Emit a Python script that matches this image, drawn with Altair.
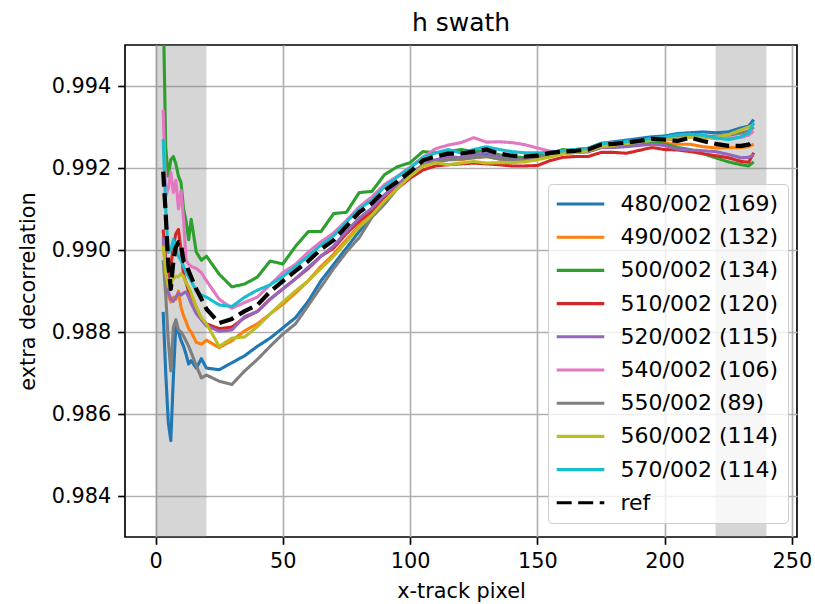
import altair as alt
import pandas as pd

# x-track pixel positions at which each curve is sampled
x_pixel = [3, 4, 5, 6, 7, 8, 9, 10, 11, 12, 13, 14, 16, 18, 20,
           25, 30, 35, 40, 45, 50, 55, 60, 65, 70, 75, 80, 85, 90, 95, 100,
           105, 110, 115, 120, 125, 130, 135, 140, 145, 150, 155, 160, 165, 170,
           175, 180, 185, 190, 195, 200, 205, 210, 215, 220, 225, 230, 233, 235]

s480 = [0.98849, 0.98700, 0.98580, 0.98535, 0.98690, 0.98820, 0.98800, 0.98780, 0.98765, 0.98745, 0.98722, 0.98730, 0.98712, 0.98735, 0.98712,
        0.98708, 0.98725, 0.98742, 0.98765, 0.98785, 0.98810, 0.98835, 0.98875, 0.98925, 0.98965, 0.99005, 0.99045, 0.99085, 0.99120, 0.99155, 0.99182,
        0.99205, 0.99218, 0.99225, 0.99225, 0.99228, 0.99232, 0.99228, 0.99225, 0.99225, 0.99228, 0.99237, 0.99242, 0.99245, 0.99248,
        0.99260, 0.99264, 0.99268, 0.99272, 0.99276, 0.99278, 0.99284, 0.99286, 0.99288, 0.99286, 0.99288, 0.99298, 0.99302, 0.99318]

s490 = [0.99020, 0.98950, 0.98890, 0.98873, 0.98885, 0.98880, 0.98900, 0.98860, 0.98840, 0.98825, 0.98808, 0.98800, 0.98775, 0.98770, 0.98780,
        0.98762, 0.98779, 0.98803, 0.98820, 0.98844, 0.98868, 0.98895, 0.98925, 0.98960, 0.98990, 0.99025, 0.99060, 0.99090, 0.99125, 0.99152, 0.99180,
        0.99205, 0.99215, 0.99220, 0.99220, 0.99225, 0.99228, 0.99222, 0.99218, 0.99218, 0.99222, 0.99230, 0.99235, 0.99238, 0.99240,
        0.99250, 0.99252, 0.99255, 0.99258, 0.99262, 0.99260, 0.99258, 0.99258, 0.99252, 0.99249, 0.99250, 0.99250, 0.99252, 0.99258]

s500 = [0.99600, 0.99250, 0.99180, 0.99220, 0.99228, 0.99210, 0.99180, 0.99165, 0.99100, 0.99070, 0.99025, 0.99075, 0.98995, 0.98975, 0.98985,
        0.98941, 0.98910, 0.98917, 0.98934, 0.98973, 0.98966, 0.99009, 0.99045, 0.99045, 0.99089, 0.99092, 0.99140, 0.99143, 0.99184, 0.99203, 0.99213,
        0.99240, 0.99237, 0.99240, 0.99245, 0.99240, 0.99242, 0.99232, 0.99228, 0.99225, 0.99228, 0.99235, 0.99245, 0.99240, 0.99240,
        0.99250, 0.99252, 0.99255, 0.99258, 0.99262, 0.99258, 0.99250, 0.99245, 0.99235, 0.99225, 0.99215, 0.99208, 0.99205, 0.99215]

s510 = [0.99050, 0.98980, 0.98930, 0.98960, 0.99010, 0.99040, 0.99050, 0.99000, 0.98940, 0.98920, 0.98900, 0.98890, 0.98860, 0.98830, 0.98820,
        0.98808, 0.98812, 0.98835, 0.98850, 0.98880, 0.98905, 0.98930, 0.98955, 0.98985, 0.99005, 0.99040, 0.99070, 0.99095, 0.99125, 0.99150, 0.99175,
        0.99195, 0.99205, 0.99208, 0.99210, 0.99212, 0.99210, 0.99208, 0.99205, 0.99205, 0.99206, 0.99218, 0.99226, 0.99228, 0.99228,
        0.99238, 0.99238, 0.99236, 0.99243, 0.99250, 0.99245, 0.99244, 0.99240, 0.99235, 0.99230, 0.99225, 0.99216, 0.99214, 0.99237]

s520 = [0.99030, 0.98960, 0.98898, 0.98880, 0.98875, 0.98885, 0.98895, 0.98890, 0.98895, 0.98898, 0.98885, 0.98870, 0.98845, 0.98830, 0.98815,
        0.98802, 0.98805, 0.98838, 0.98850, 0.98880, 0.98905, 0.98930, 0.98958, 0.98985, 0.99010, 0.99045, 0.99078, 0.99102, 0.99135, 0.99160, 0.99185,
        0.99208, 0.99220, 0.99228, 0.99225, 0.99232, 0.99238, 0.99228, 0.99222, 0.99220, 0.99224, 0.99232, 0.99236, 0.99238, 0.99240,
        0.99250, 0.99250, 0.99252, 0.99255, 0.99258, 0.99255, 0.99246, 0.99244, 0.99242, 0.99240, 0.99233, 0.99225, 0.99226, 0.99232]

s540 = [0.99342, 0.99130, 0.99150, 0.99190, 0.99140, 0.99170, 0.99100, 0.99145, 0.99075, 0.98975, 0.98965, 0.98960, 0.98955, 0.98945, 0.98925,
        0.98880, 0.98858, 0.98872, 0.98885, 0.98915, 0.98945, 0.98965, 0.98995, 0.99020, 0.99042, 0.99072, 0.99105, 0.99130, 0.99160, 0.99180, 0.99202,
        0.99226, 0.99247, 0.99256, 0.99262, 0.99274, 0.99263, 0.99264, 0.99262, 0.99257, 0.99249, 0.99241, 0.99238, 0.99240, 0.99242,
        0.99255, 0.99258, 0.99260, 0.99264, 0.99268, 0.99268, 0.99270, 0.99275, 0.99275, 0.99272, 0.99272, 0.99275, 0.99280, 0.99290]

s550 = [0.98975, 0.98890, 0.98780, 0.98705, 0.98812, 0.98830, 0.98805, 0.98800, 0.98790, 0.98778, 0.98765, 0.98750, 0.98718, 0.98688, 0.98695,
        0.98680, 0.98672, 0.98705, 0.98733, 0.98765, 0.98795, 0.98820, 0.98865, 0.98910, 0.98955, 0.98995, 0.99030, 0.99080, 0.99112, 0.99150, 0.99180,
        0.99205, 0.99215, 0.99220, 0.99222, 0.99225, 0.99228, 0.99222, 0.99220, 0.99220, 0.99225, 0.99235, 0.99240, 0.99242, 0.99245,
        0.99256, 0.99258, 0.99262, 0.99266, 0.99270, 0.99272, 0.99275, 0.99278, 0.99278, 0.99278, 0.99280, 0.99285, 0.99290, 0.99300]

s560 = [0.99010, 0.98945, 0.98910, 0.98920, 0.98930, 0.98935, 0.98935, 0.98942, 0.98935, 0.98920, 0.98910, 0.98895, 0.98860, 0.98835, 0.98820,
        0.98765, 0.98785, 0.98788, 0.98813, 0.98844, 0.98873, 0.98900, 0.98925, 0.98955, 0.98985, 0.99020, 0.99055, 0.99085, 0.99120, 0.99150, 0.99180,
        0.99204, 0.99213, 0.99208, 0.99212, 0.99216, 0.99212, 0.99213, 0.99213, 0.99215, 0.99220, 0.99227, 0.99235, 0.99238, 0.99242,
        0.99252, 0.99255, 0.99260, 0.99263, 0.99268, 0.99270, 0.99272, 0.99275, 0.99275, 0.99275, 0.99281, 0.99293, 0.99300, 0.99305]

s570 = [0.99270, 0.99100, 0.98994, 0.99000, 0.99026, 0.99000, 0.98985, 0.98975, 0.98960, 0.98946, 0.98935, 0.98925, 0.98900, 0.98890, 0.98885,
        0.98866, 0.98862, 0.98885, 0.98902, 0.98915, 0.98935, 0.98960, 0.98985, 0.99012, 0.99035, 0.99068, 0.99100, 0.99122, 0.99155, 0.99178, 0.99200,
        0.99225, 0.99237, 0.99245, 0.99237, 0.99245, 0.99252, 0.99245, 0.99240, 0.99237, 0.99237, 0.99238, 0.99242, 0.99245, 0.99248,
        0.99260, 0.99262, 0.99265, 0.99268, 0.99272, 0.99275, 0.99281, 0.99282, 0.99280, 0.99274, 0.99269, 0.99276, 0.99285, 0.99310]

ref = [0.99191, 0.99087, 0.98966, 0.98905, 0.98973, 0.99007, 0.99019, 0.99014, 0.98973, 0.98966, 0.98949, 0.98934, 0.98905, 0.98881, 0.98856,
       0.98822, 0.98832, 0.98851, 0.98866, 0.98898, 0.98924, 0.98949, 0.98973, 0.99002, 0.99024, 0.99058, 0.99092, 0.99114, 0.99145, 0.99167, 0.99191,
       0.99218, 0.99228, 0.99235, 0.99235, 0.99240, 0.99245, 0.99235, 0.99230, 0.99228, 0.99230, 0.99237, 0.99240, 0.99242, 0.99245,
       0.99257, 0.99259, 0.99262, 0.99266, 0.99271, 0.99269, 0.99266, 0.99274, 0.99266, 0.99259, 0.99254, 0.99254, 0.99257, 0.99266]

series_labels = ["480/002 (169)", "490/002 (132)", "500/002 (134)", "510/002 (120)",
                 "520/002 (115)", "540/002 (106)", "550/002 (89)", "560/002 (114)",
                 "570/002 (114)", "ref"]
series_values = [s480, s490, s500, s510, s520, s540, s550, s560, s570, ref]
series_colors = ["#1f77b4", "#ff7f0e", "#2ca02c", "#d62728", "#9467bd",
                 "#e377c2", "#7f7f7f", "#bcbd22", "#17becf", "#000000"]
series_dashes = [[1, 0]] * 9 + [[15, 6.5]]

# edge regions shaded on the x-track axis
band_start = [0, 220]
band_end = [20, 240]

x_ticks = [0, 50, 100, 150, 200, 250]
y_ticks = [0.984, 0.986, 0.988, 0.990, 0.992, 0.994]

rows = []
for label, values in zip(series_labels, series_values):
    for px, v in zip(x_pixel, values):
        rows.append({"pixel": px, "value": v, "series": label})
df = pd.DataFrame(rows)
bands = pd.DataFrame({"start": band_start, "end": band_end})

FONT = "DejaVu Sans"

x_scale = alt.Scale(domain=[-12, 252], nice=False, zero=False)
y_scale = alt.Scale(domain=[0.983, 0.995], nice=False, zero=False)
x_axis = alt.Axis(title="x-track pixel", values=x_ticks, format="d", labelFlush=False,
                  titlePadding=10)
y_axis = alt.Axis(title="extra decorrelation", values=y_ticks, format=".3f",
                  titlePadding=13)

legend = alt.Legend(
    title=None, orient="none", legendX=423, legendY=139,
    symbolType="M-2.8,0H2.8", symbolSize=289, symbolStrokeWidth=3.1,
    symbolOffset=12.5, labelOffset=29, rowPadding=11.2, padding=9,
    labelFontSize=22, labelFont=FONT, labelColor="black", labelBaseline="middle",
    fillColor="rgba(255,255,255,0.8)", strokeColor="#cccccc", cornerRadius=4,
    labelLimit=400,
)
color_enc = alt.Color("series:N", scale=alt.Scale(domain=series_labels, range=series_colors),
                      legend=legend, sort=series_labels)
dash_enc = alt.StrokeDash("series:N", scale=alt.Scale(domain=series_labels, range=series_dashes),
                          legend=legend, sort=series_labels)

band_layer = alt.Chart(bands).mark_rect(color="#808080", opacity=0.32).encode(
    x=alt.X("start:Q", scale=x_scale, axis=x_axis),
    x2="end:Q",
)

runs = alt.Chart(df[df["series"] != "ref"]).mark_line(
    clip=True, strokeWidth=3.1, strokeCap="butt", strokeJoin="round"
).encode(
    x=alt.X("pixel:Q", scale=x_scale, axis=x_axis),
    y=alt.Y("value:Q", scale=y_scale, axis=y_axis),
    color=color_enc,
    strokeDash=dash_enc,
)

ref_line = alt.Chart(df[df["series"] == "ref"]).mark_line(
    clip=True, strokeWidth=4.2, strokeCap="butt", strokeJoin="round"
).encode(
    x=alt.X("pixel:Q", scale=x_scale, axis=x_axis),
    y=alt.Y("value:Q", scale=y_scale, axis=y_axis),
    color=color_enc,
    strokeDash=dash_enc,
)

chart = alt.layer(band_layer, runs, ref_line).properties(
    width=672,
    height=492,
    title=alt.TitleParams("h swath", font=FONT, fontSize=25, fontWeight="normal",
                          color="black", offset=9, anchor="middle"),
    padding={"left": 125, "top": 45, "right": 18, "bottom": 67},
    autosize=alt.AutoSizeParams(type="none"),
    background="white",
).configure_view(
    stroke="black", strokeWidth=1.67
).configure_axis(
    domain=False,
    labelFont=FONT, labelFontSize=20.8, labelColor="black", labelPadding=7,
    tickColor="black", tickSize=7.3, tickWidth=1.67,
    gridColor="#b0b0b0", gridWidth=1.67,
    titleFont=FONT, titleFontSize=20.8, titleFontWeight="normal", titleColor="black",
    labelOverlap=False,
)

chart.save("out.html", embed_options={"renderer": "svg", "actions": False})
